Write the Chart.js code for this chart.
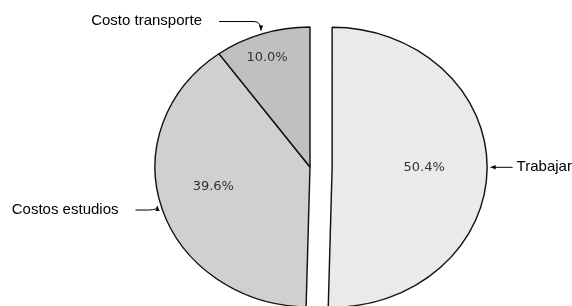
<!DOCTYPE html>
<html><head><meta charset="utf-8">
<script src="https://cdn.jsdelivr.net/npm/chart.js@4.4.0/dist/chart.umd.min.js"></script>
<style>html,body{margin:0;padding:0;background:#fff;}#wrap{width:572px;height:306px;position:relative;}</style>
</head><body><div id="wrap"><canvas id="c" width="572" height="306"></canvas></div>
<script>
// ---- data ----
const categories = ['Trabajar', 'Costos estudios', 'Costo transporte'];
const values = [50.4, 39.6, 10.0];
const valueLabels = ['50.4%', '39.6%', '10.0%'];
const explode = [20, 0, 0];

// ---- styling ----
const SX = 1.107; // horizontal stretch (elliptical pie)
const canvas = document.getElementById('c');
const ctx0 = canvas.getContext('2d');
function makePattern(size, draw) {
  const c = document.createElement('canvas'); c.width = c.height = size;
  const g = c.getContext('2d'); draw(g); return ctx0.createPattern(c, 'repeat');
}
const patTrabajar = makePattern(4, g => { g.fillStyle = '#ececec'; g.fillRect(0,0,4,4); g.fillStyle = '#e6e6e6'; for (let i=0;i<4;i++) g.fillRect(i,3-i,1,1); });
const patEstudios = makePattern(2, g => { g.fillStyle = '#dcdcdc'; g.fillRect(0,0,2,2); g.fillStyle = '#c4c4c4'; g.fillRect(0,0,1,1); g.fillRect(1,1,1,1); });
const fills = [patTrabajar, patEstudios, '#c0c0c0'];

// label placement: [radial fraction, angle shift deg]
const pctPos = [[0.594, -0.7], [0.64, 4.4], [0.826, -1.6]];
// leader: side (-1 left, 1 right), tip angle shift deg, elbow dx, dy, line length, gap to text
const leaders = [
  {side: 1, as: -0.7, ex: 0, ey: 0, len: 22, gap: 4},
  {side: -1, as: 1.5, ex: -9, ey: 4, len: 13, gap: 17},
  {side: -1, as: 0, ex: -7, ey: -9, len: 35, gap: 17}
];

const pieStretch = {
  id: 'pieStretch',
  afterDatasetsUpdate(chart) {
    const meta = chart.getDatasetMeta(0);
    meta.data.forEach((a, i) => {
      const e = explode[i]; if (!e) return;
      const m = (a.startAngle + a.endAngle) / 2;
      a.x += Math.cos(m) * e; a.y += Math.sin(m) * e;
    });
  },
  beforeDatasetsDraw(chart) {
    const ctx = chart.ctx; const cx = (chart.chartArea.left + chart.chartArea.right) / 2;
    ctx.save(); ctx.translate(cx, 0); ctx.scale(SX, 1); ctx.translate(-cx, 0);
  },
  afterDatasetsDraw(chart) { chart.ctx.restore(); }
};

const labelsPlugin = {
  id: 'labelsPlugin',
  afterDraw(chart) {
    const ctx = chart.ctx; const cx = (chart.chartArea.left + chart.chartArea.right) / 2;
    const meta = chart.getDatasetMeta(0);
    const toScreen = (x, y) => [cx + (x - cx) * SX, y];
    meta.data.forEach((a, i) => {
      const mid = (a.startAngle + a.endAngle) / 2;
      const R = a.outerRadius;
      // percentage
      const pa = mid + pctPos[i][1] * Math.PI / 180;
      const pr = R * pctPos[i][0];
      const [px, py] = toScreen(a.x + Math.cos(pa) * pr, a.y + Math.sin(pa) * pr);
      ctx.save();
      ctx.font = '13px "DejaVu Sans", Verdana, sans-serif'; ctx.fillStyle = '#333'; ctx.textAlign = 'center'; ctx.textBaseline = 'middle';
      ctx.fillText(valueLabels[i], px, py);
      ctx.restore();
      // leader line
      const L = leaders[i];
      const ta = mid + L.as * Math.PI / 180;
      const [ax, ay] = toScreen(a.x + Math.cos(ta) * R, a.y + Math.sin(ta) * R);
      const tx = ax + Math.cos(ta) * 3.5, ty = ay + Math.sin(ta) * 3.5;
      const exX = tx + L.ex, exY = ty + L.ey;
      const endX = exX + L.side * L.len;
      ctx.save();
      ctx.strokeStyle = '#000'; ctx.fillStyle = '#000'; ctx.lineWidth = 1;
      ctx.beginPath();
      ctx.moveTo(endX, exY);
      ctx.lineTo(exX, exY);
      let dx, dy;
      if (L.ex !== 0 || L.ey !== 0) {
        ctx.quadraticCurveTo(tx, exY, tx, ty);
        dx = 0; dy = ty - exY;
      } else {
        ctx.lineTo(tx, ty);
        dx = -L.side; dy = 0;
      }
      ctx.stroke();
      const d = Math.hypot(dx, dy) || 1; dx /= d; dy /= d;
      const hl = 5, hw = 2.2;
      ctx.beginPath();
      ctx.moveTo(tx, ty);
      ctx.lineTo(tx - dx * hl - dy * hw, ty - dy * hl + dx * hw);
      ctx.lineTo(tx - dx * hl + dy * hw, ty - dy * hl - dx * hw);
      ctx.closePath(); ctx.fill();
      // text
      ctx.font = '15px "Liberation Sans", Arial, sans-serif'; ctx.textBaseline = 'middle';
      ctx.textAlign = L.side > 0 ? 'left' : 'right';
      ctx.fillText(categories[i], endX + L.side * L.gap, exY - 0.5);
      ctx.restore();
    });
  }
};

new Chart(canvas, {
  type: 'pie',
  data: {
    labels: categories,
    datasets: [{
      data: values,
      backgroundColor: fills,
      borderColor: '#111',
      borderWidth: 1.3,
      radius: 140,
      clip: false
    }]
  },
  options: {
    responsive: false,
    animation: false,
    events: [],
    layout: {padding: {left: 48, top: 28, right: 0, bottom: 0}},
    plugins: {legend: {display: false}, tooltip: {enabled: false}}
  },
  plugins: [pieStretch, labelsPlugin]
});
</script>
</body></html>
